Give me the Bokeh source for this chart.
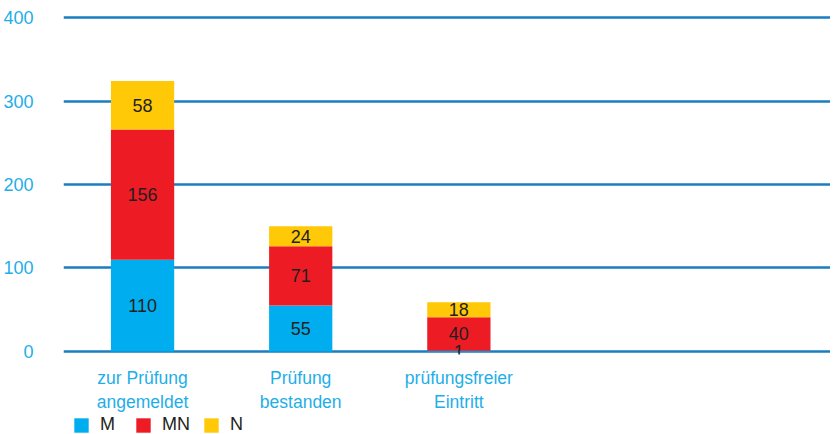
from bokeh.plotting import figure
from bokeh.layouts import column
from bokeh.models import ColumnDataSource, Legend, LegendItem, FixedTicker, Range1d
from bokeh.core.properties import value
from bokeh.embed import file_html
from bokeh.resources import INLINE

categories = ["zur Prüfung\nangemeldet", "Prüfung\nbestanden", "prüfungsfreier\nEintritt"]
series = ["M", "MN", "N"]
m_values = [110, 55, 1]
mn_values = [156, 71, 40]
n_values = [58, 24, 18]
y_ticks = [0, 100, 200, 300, 400]
colors = ["#00aeef", "#ed1c24", "#ffc907"]

FONT = "Liberation Sans"
TICK_COLOR = "#1eaee8"
TEXT_COLOR = "#231f20"
GRID_COLOR = "#1b7dc1"

x = list(range(len(categories)))
src = ColumnDataSource(dict(x=x, M=m_values, MN=mn_values, N=n_values))

p = figure(frame_width=767, frame_height=340, output_backend="svg", toolbar_location=None,
           x_range=Range1d(-0.5, 4.35), y_range=Range1d(-3.6, 403.6),
           min_border_left=57, min_border_right=0, min_border_top=14, min_border_bottom=0)

renderers = p.vbar_stack(series, x='x', width=0.4, fill_color=colors, line_color=None, source=src)

# segment labels
base = [0] * len(categories)
lx, ly, lt = [], [], []
for vals in (m_values, mn_values, n_values):
    for i, v in enumerate(vals):
        lx.append(x[i])
        ly.append(base[i] + v / 2)
        lt.append(str(v))
        base[i] += v
p.text(x=lx, y=ly, text=lt, text_align="center", text_baseline="middle",
       text_font=value(FONT), text_font_size="18px", text_color=TEXT_COLOR)

# axes
p.xaxis.ticker = FixedTicker(ticks=x)
p.xaxis.major_label_overrides = {i: c for i, c in zip(x, categories)}
p.yaxis.ticker = FixedTicker(ticks=y_ticks)
for ax in (p.xaxis, p.yaxis):
    ax.axis_line_color = None
    ax.major_tick_line_color = None
    ax.minor_tick_line_color = None
    ax.major_label_text_color = TICK_COLOR
    ax.major_label_text_font = FONT
p.yaxis.major_label_text_font_size = "18px"
p.xaxis.major_label_text_font_size = "17.5px"
p.xaxis.major_label_standoff = 7
p.yaxis.major_label_standoff = 24

p.xgrid.visible = False
p.ygrid.grid_line_color = GRID_COLOR
p.ygrid.grid_line_width = 2.5
p.outline_line_color = None

# legend strip (its bars lie outside its visible range; only the legend shows)
lp = figure(width=824, height=24, output_backend="svg", toolbar_location=None,
            x_range=Range1d(100, 101), y_range=Range1d(1000, 1001), min_border=0)
lp.axis.visible = False
lp.grid.visible = False
lp.outline_line_color = None
lrs = lp.vbar_stack(series, x='x', width=0.4, fill_color=colors, line_color=None, source=src)
legend = Legend(items=[LegendItem(label=s, renderers=[r]) for s, r in zip(series, lrs)],
                location=(9, 3), orientation="horizontal",
                glyph_width=18, glyph_height=18, label_standoff=10, spacing=12,
                label_width=22, label_height=18, padding=0, margin=0,
                border_line_color=None, background_fill_alpha=0,
                label_text_font=FONT, label_text_font_size="18px",
                label_text_color=TEXT_COLOR)
lp.add_layout(legend)

layout = column(p, lp, spacing=0)
open("out.html", "w").write(file_html(layout, INLINE))
